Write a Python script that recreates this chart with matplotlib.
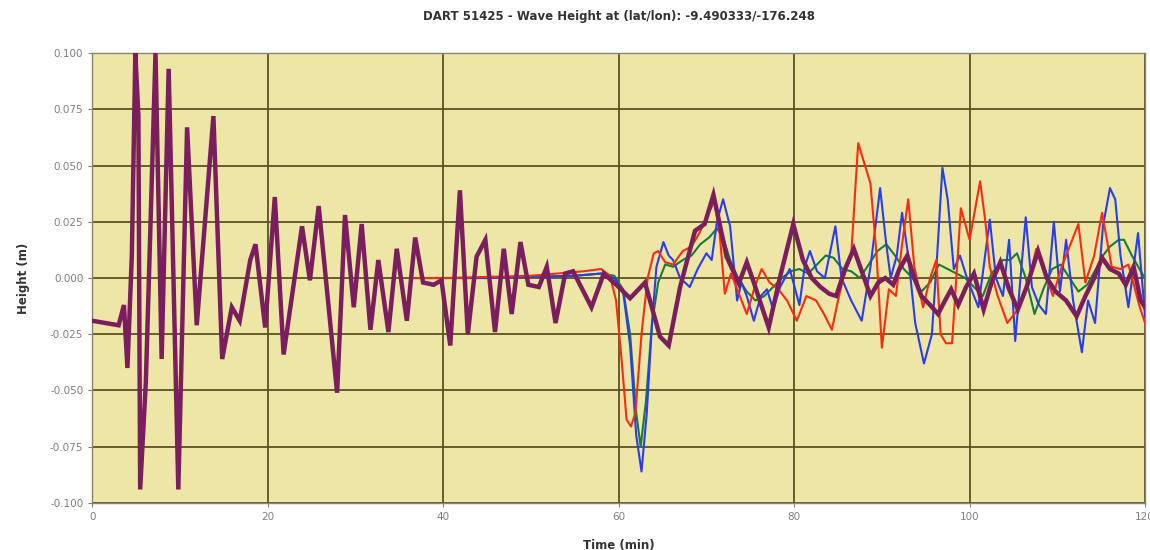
import matplotlib
matplotlib.use("Agg")
import matplotlib.pyplot as plt
from matplotlib.ticker import FuncFormatter, MultipleLocator

# Observed DART record (thick line)
obs_t = [0.0, 3.0, 3.6, 4.0, 4.5, 4.9, 5.25, 5.45, 6.1, 6.6, 7.2, 7.9, 8.7, 9.8,
         10.8, 11.9, 13.8, 14.8, 15.9, 16.8, 18.0, 18.6, 19.7, 20.8, 21.8, 23.9,
         24.8, 25.8, 27.9, 28.8, 29.8, 30.7, 31.7, 32.6, 33.75, 34.7, 35.85, 36.8,
         37.7, 38.9, 39.8, 40.8, 41.9, 42.8, 43.8, 44.8, 45.9, 46.9, 47.8, 48.8,
         49.7, 50.9, 51.8, 52.8, 53.9, 54.8, 56.9, 58.3, 60.0, 61.3, 63.0, 64.7,
         65.7, 67.0, 68.7, 69.8, 70.8, 72.3, 73.7, 74.6, 75.4, 77.1, 78.4, 79.9,
         81.0, 82.0, 83.0, 84.0, 84.8, 85.8, 86.8, 87.8, 88.7, 89.6, 90.4, 91.3,
         92.0, 92.9, 93.7, 94.5, 95.5, 96.4, 97.2, 97.9, 98.7, 99.6, 100.5, 101.6,
         102.5, 103.5, 104.5, 105.5, 106.5, 107.8, 108.8, 109.8, 111.0, 112.2,
         113.2, 114.2, 115.1, 116.0, 117.0, 117.8, 118.7, 119.5, 120.0]
obs_h = [-0.019, -0.021, -0.012, -0.040, 0.010, 0.100, 0.072, -0.094, -0.046, 0.020,
         0.100, -0.036, 0.093, -0.094, 0.067, -0.021, 0.072, -0.036, -0.013, -0.019,
         0.008, 0.015, -0.022, 0.036, -0.034, 0.023, -0.001, 0.032, -0.051, 0.028,
         -0.013, 0.024, -0.023, 0.008, -0.024, 0.013, -0.019, 0.018, -0.002, -0.003,
         -0.001, -0.030, 0.039, -0.025, 0.0095, 0.017, -0.024, 0.013, -0.016, 0.016,
         -0.003, -0.004, 0.005, -0.020, 0.002, 0.003, -0.013, 0.002, -0.004, -0.009,
         -0.002, -0.026, -0.030, -0.004, 0.021, 0.024, 0.037, 0.0095, -0.0024, 0.007,
         -0.002, -0.022, 0.0006, 0.024, 0.008, 0.000, -0.004, -0.007, -0.008, 0.004,
         0.013, 0.002, -0.008, -0.002, 0.000, -0.003, 0.004, 0.010, 0.000, -0.008,
         -0.012, -0.016, -0.010, -0.005, -0.012, -0.004, 0.002, -0.014, -0.002, 0.007,
         -0.005, -0.014, -0.004, 0.012, 0.000, -0.006, -0.010, -0.017, -0.008, 0.000,
         0.009, 0.004, 0.002, -0.003, 0.005, -0.010, -0.013]

# Model run A (red)
red_t = [36.5, 40.0, 45.0, 50.0, 53.0, 56.0, 58.0, 59.0, 59.7, 60.3, 60.9, 61.4, 61.9,
         62.6, 63.3, 64.0, 64.5, 65.3, 66.2, 67.3, 68.3, 69.2, 70.4, 70.9, 71.5, 72.1,
         72.8, 73.5, 74.6, 75.5, 76.3, 77.2, 78.2, 79.2, 80.3, 81.4, 82.5, 83.4, 84.3,
         85.0, 85.6, 86.5, 87.3, 88.7, 89.4, 90.0, 90.8, 91.6, 92.3, 93.0, 93.7, 94.7,
         95.5, 96.2, 96.7, 97.3, 98.0, 99.0, 100.0, 101.2, 101.8, 102.3, 103.2, 104.3,
         105.3, 106.5, 107.6, 108.5, 109.5, 110.5, 111.5, 112.4, 113.2, 114.2, 115.1,
         116.2, 117.2, 118.1, 119.4, 120.0]
red_h = [0.000, 0.000, 0.0005, 0.001, 0.002, 0.003, 0.004, 0.001, -0.010, -0.035,
         -0.063, -0.066, -0.060, -0.025, 0.000, 0.011, 0.012, 0.007, 0.006, 0.012,
         0.014, 0.020, 0.030, 0.034, 0.020, -0.007, 0.002, -0.005, -0.016, -0.004,
         0.004, -0.002, -0.005, -0.010, -0.019, -0.008, -0.010, -0.016, -0.023, -0.010,
         0.000, 0.010, 0.060, 0.042, 0.010, -0.031, -0.005, -0.008, 0.015, 0.035,
         0.005, -0.013, 0.000, 0.008, -0.025, -0.029, -0.029, 0.031, 0.017, 0.043,
         0.025, 0.005, -0.008, -0.020, -0.015, -0.005, 0.013, 0.003, -0.008, 0.005,
         0.015, 0.024, -0.002, 0.010, 0.029, 0.005, 0.004, 0.006, -0.013, -0.020]

# Model run B (blue)
blue_t = [36.5, 45.0, 50.0, 55.0, 58.0, 59.5, 60.5, 61.3, 62.0, 62.6, 63.2, 63.8, 64.3,
          65.1, 65.7, 66.2, 67.0, 68.1, 69.0, 70.0, 70.6, 71.2, 71.9, 72.7, 73.5, 74.0,
          74.6, 75.4, 76.2, 76.9, 77.6, 78.4, 79.5, 80.6, 81.2, 81.8, 82.6, 83.5, 84.7,
          85.4, 86.5, 87.7, 88.7, 89.8, 90.5, 91.0, 91.7, 92.3, 93.0, 93.8, 94.8, 95.7,
          96.3, 96.9, 97.5, 98.2, 98.9, 99.7, 100.5, 101.0, 101.6, 102.3, 103.0, 103.8,
          104.5, 105.2, 105.8, 106.4, 107.1, 107.9, 108.7, 109.6, 110.3, 111.0, 111.8,
          112.8, 113.5, 114.3, 115.2, 116.0, 116.6, 117.2, 118.1, 119.2, 120.0]
blue_h = [0.000, 0.000, 0.0005, 0.001, 0.002, 0.000, -0.006, -0.030, -0.070, -0.086,
          -0.060, -0.020, 0.005, 0.016, 0.010, 0.008, 0.000, -0.004, 0.004, 0.011,
          0.008, 0.025, 0.035, 0.023, -0.010, -0.002, -0.008, -0.019, -0.008, -0.005,
          -0.014, -0.004, 0.004, -0.012, 0.005, 0.012, 0.003, 0.000, 0.023, 0.000,
          -0.010, -0.019, 0.005, 0.040, 0.015, 0.000, 0.010, 0.029, 0.010, -0.020,
          -0.038, -0.025, 0.010, 0.049, 0.035, 0.004, 0.010, 0.000, -0.008, -0.013,
          0.005, 0.026, 0.000, -0.008, 0.017, -0.028, 0.000, 0.027, -0.004, -0.012,
          -0.016, 0.025, -0.006, 0.017, -0.010, -0.033, -0.010, -0.020, 0.023, 0.040,
          0.035, 0.010, -0.013, 0.020, -0.017]

# Model run C (green)
green_t = [36.5, 45.0, 50.0, 55.0, 58.0, 59.5, 60.5, 61.3, 62.0, 62.5, 63.1, 63.8, 64.5,
           65.3, 66.2, 67.3, 68.3, 69.3, 70.3, 71.2, 71.9, 72.7, 73.6, 74.6, 75.6, 76.6,
           77.6, 78.6, 79.6, 80.6, 81.6, 82.6, 83.6, 84.5, 85.5, 86.5, 87.5, 88.5, 89.5,
           90.5, 91.5, 92.5, 93.5, 94.5, 95.5, 96.5, 97.5, 98.5, 99.5, 100.5, 101.5,
           102.5, 103.8, 104.6, 105.4, 106.4, 107.4, 108.4, 109.4, 110.4, 111.4, 112.4,
           113.4, 114.4, 115.2, 116.0, 117.0, 117.6, 118.5, 119.5, 120.0]
green_h = [0.000, 0.000, 0.0005, 0.001, 0.002, 0.001, -0.005, -0.025, -0.060, -0.075,
           -0.055, -0.020, -0.002, 0.006, 0.005, 0.008, 0.010, 0.015, 0.018, 0.022,
           0.018, 0.008, 0.000, -0.006, -0.010, -0.008, -0.004, 0.000, 0.003, 0.004,
           0.002, 0.006, 0.010, 0.009, 0.004, 0.003, 0.000, 0.006, 0.012, 0.015, 0.010,
           0.004, 0.000, -0.006, -0.002, 0.006, 0.004, 0.002, 0.000, -0.004, -0.008,
           0.002, 0.008, 0.008, 0.011, 0.000, -0.016, -0.005, 0.004, 0.006, 0.000,
           -0.006, -0.003, 0.004, 0.010, 0.014, 0.017, 0.017, 0.010, 0.003, 0.000]

title = "DART 51425 - Wave Height at (lat/lon): -9.490333/-176.248"
x_ticks = [0, 20, 40, 60, 80, 100, 120]

fig = plt.figure(figsize=(11.5, 5.5), dpi=100)
fig.patch.set_facecolor("white")
ax = fig.add_axes([0.0803, 0.0855, 0.9154, 0.818])
ax.set_facecolor("#ede6a6")

grid_col = "#5a5222"
ax.set_xlim(0, 120)
ax.set_ylim(-0.1, 0.1)
ax.set_xticks(x_ticks)
ax.yaxis.set_major_locator(MultipleLocator(0.025))
ax.yaxis.set_major_formatter(FuncFormatter(lambda v, p: f"{v:.3f}"))
ax.grid(True, color=grid_col, linewidth=1.3)
ax.set_axisbelow(True)
for s in ax.spines.values():
    s.set_color("#8a8470")
    s.set_linewidth(1.0)
ax.tick_params(axis="both", labelsize=7.5, colors="#808080", length=3, width=0.8)

ax.plot(green_t, green_h, color="#1a7a3a", linewidth=1.5, zorder=3)
ax.plot(blue_t, blue_h, color="#2a3cf0", linewidth=1.5, zorder=4)
ax.plot(red_t, red_h, color="#ff2a10", linewidth=1.5, zorder=5)
ax.plot(obs_t, obs_h, color="#7a1e5e", linewidth=3.2, zorder=6,
        solid_joinstyle="miter")

ax.set_title(title, fontsize=8.5, fontweight="bold", color="#333333", pad=24)
ax.set_xlabel("Time (min)", fontsize=8.5, fontweight="bold", color="#333333",
              labelpad=12)
ax.set_ylabel("Height (m)", fontsize=8.5, fontweight="bold", color="#333333",
              labelpad=14)

fig.savefig("out.png", dpi=100)
